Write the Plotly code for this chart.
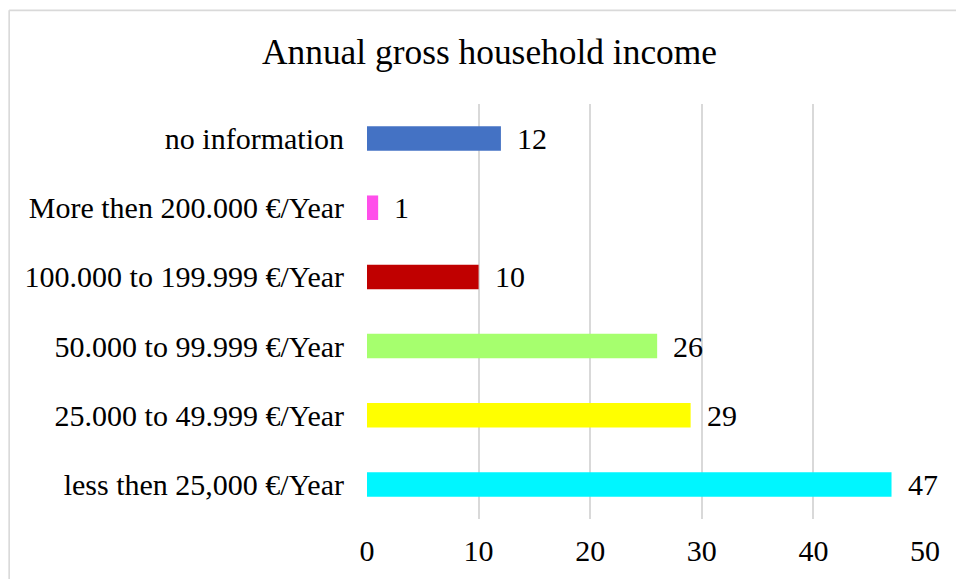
import plotly.graph_objects as go

# Household income brackets (bottom to top) and respondent counts
categories = [
    "less then 25,000 €/Year",
    "25.000 to 49.999 €/Year",
    "50.000 to 99.999 €/Year",
    "100.000 to 199.999 €/Year",
    "More then 200.000 €/Year",
    "no information",
]
counts = [47, 29, 26, 10, 1, 12]
bar_colors = ["#00F6FF", "#FFFF00", "#A6FF6E", "#C00000", "#FF4FEA", "#4472C4"]
x_ticks = [0, 10, 20, 30, 40, 50]

FONT = "Liberation Serif, Times New Roman, serif"
GRID = "#D9D9D9"
LABEL_SIZE = 30

fig = go.Figure(
    go.Bar(
        x=counts,
        y=categories,
        orientation="h",
        width=0.355,
        marker=dict(color=bar_colors, line=dict(width=0)),
        hoverinfo="x+y",
    )
)

# value labels beside each bar
for cat, val in zip(categories, counts):
    fig.add_annotation(
        x=val, y=cat, xref="x", yref="y",
        text=str(val), showarrow=False,
        xanchor="left", yanchor="middle", xshift=14,
        font=dict(family=FONT, size=LABEL_SIZE, color="#000000"),
    )

# chart frame (top and left edges fall inside the page)
fig.add_shape(type="line", xref="paper", yref="paper",
              x0=-0.6413, x1=1.2, y0=1.2257, y1=1.2257,
              line=dict(color=GRID, width=1.6))
fig.add_shape(type="line", xref="paper", yref="paper",
              x0=-0.6413, x1=-0.6413, y0=-0.3, y1=1.2257,
              line=dict(color=GRID, width=1.6))

fig.update_layout(
    width=956,
    height=579,
    margin=dict(l=367, r=31, t=104, b=60),
    paper_bgcolor="white",
    plot_bgcolor="white",
    showlegend=False,
    title=dict(
        text="Annual gross household income",
        x=489.5 / 956, xref="container", xanchor="center",
        y=1 - 52 / 579, yref="container", yanchor="middle",
        font=dict(family=FONT, size=35.4, color="#000000"),
    ),
    xaxis=dict(
        range=[0, 50],
        tickvals=x_ticks,
        showgrid=True, gridcolor=GRID, gridwidth=1.5,
        zeroline=False, showline=False, ticks="",
        ticklabelstandoff=11,
        tickfont=dict(family=FONT, size=LABEL_SIZE, color="#000000"),
        fixedrange=True,
    ),
    yaxis=dict(
        categoryorder="array", categoryarray=categories,
        showgrid=False, zeroline=False, showline=False, ticks="",
        ticklabelstandoff=22,
        tickfont=dict(family=FONT, size=LABEL_SIZE, color="#000000"),
        fixedrange=True,
    ),
)

fig.write_html("out.html")
